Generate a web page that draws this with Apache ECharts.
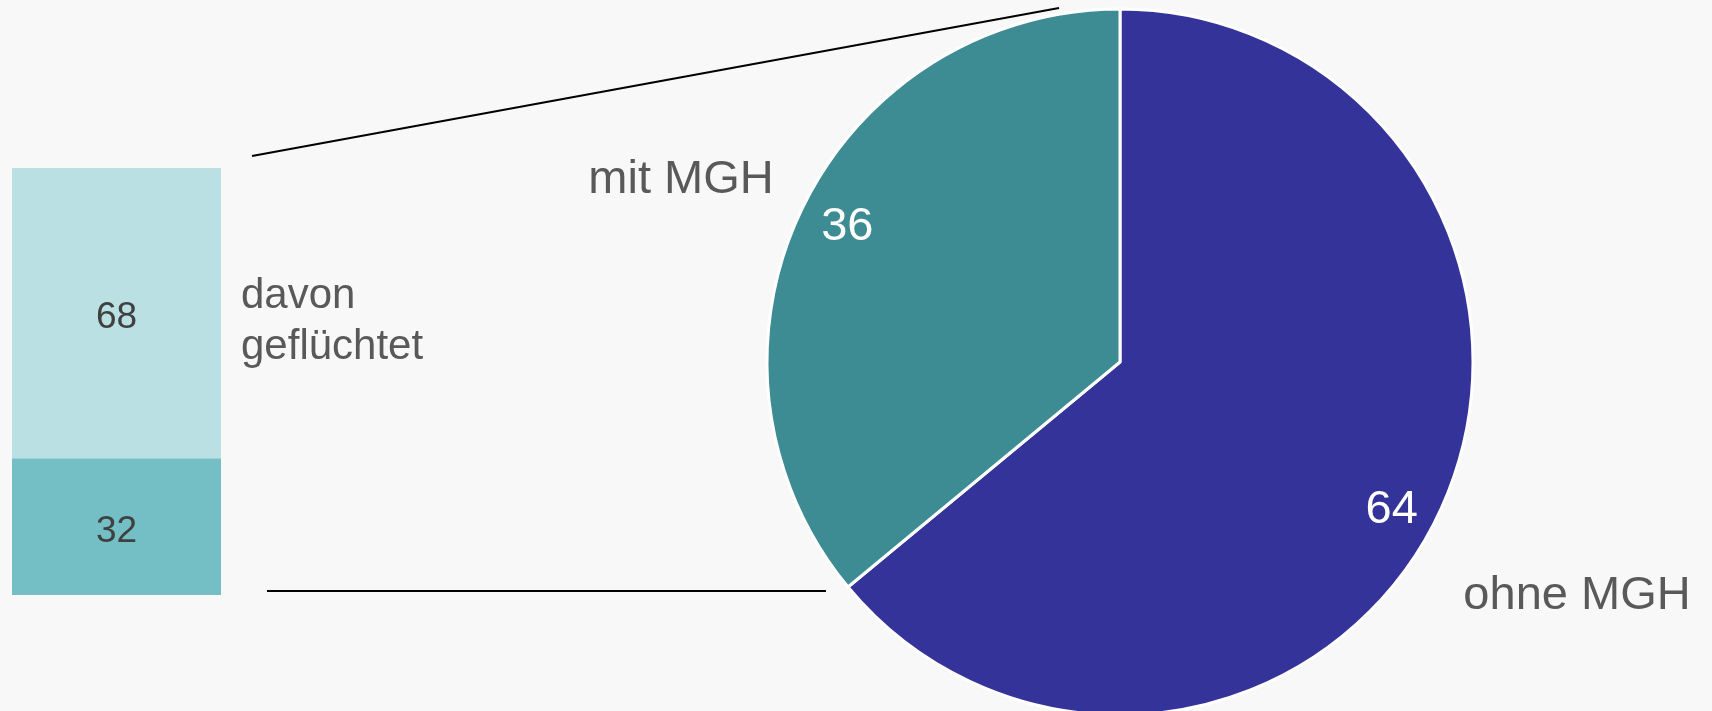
<!DOCTYPE html>
<html>
<head>
<meta charset="utf-8">
<script src="https://cdn.jsdelivr.net/npm/echarts@6/dist/echarts.min.js"></script>
<style>
  html, body { margin: 0; padding: 0; background: #f8f8f8; }
  #chart { width: 1712px; height: 711px; }
</style>
</head>
<body>
<div id="chart"></div>
<script>
  // Anteil mit / ohne Migrationshintergrund
  var pieNames = ['ohne MGH', 'mit MGH']
  var pieValues = [64, 36]
  var pieColors = ['#343399', '#3e8c93']

  // davon geflüchtet (gestapelte Säule links)
  var barCategories = ['mit MGH']
  var barNames = ['nicht geflüchtet', 'davon geflüchtet']
  var barValues = [[32], [68]]
  var barColors = ['#73bfc5', '#bbe0e3']

  var font = '"Liberation Sans", Arial, sans-serif'

  var chart = echarts.init(document.getElementById('chart'))

  var pieData = []
  var ringData = []
  for (var i = 0; i < pieValues.length; i++) {
    pieData.push({ name: pieNames[i], value: pieValues[i], itemStyle: { color: pieColors[i] } })
    ringData.push({ name: pieNames[i], value: pieValues[i] })
  }

  var barSeries = []
  for (i = 0; i < barValues.length; i++) {
    barSeries.push({
      name: barNames[i],
      type: 'bar',
      stack: 'mgh',
      barWidth: '100%',
      silent: true,
      itemStyle: { color: barColors[i] },
      label: {
        show: true,
        position: 'inside',
        offset: [0, 5],
        color: '#404040',
        fontSize: 37,
        fontFamily: font
      },
      data: barValues[i]
    })
  }

  // position of the name labels next to the pie
  var nameSpots = [
    { x: 1577, y: 596 },
    { x: 681, y: 180 }
  ]
  var valueNudge = [
    { dx: -7, dy: 17 },
    { dx: 6, dy: -4 }
  ]

  var option = {
    backgroundColor: '#f8f8f8',
    animation: false,
    grid: {
      left: 12,
      top: 168,
      width: 209,
      height: 427
    },
    xAxis: {
      type: 'category',
      show: false,
      data: barCategories
    },
    yAxis: {
      type: 'value',
      show: false,
      min: 0,
      max: 100
    },
    series: barSeries.concat([
      {
        name: 'MGH',
        type: 'pie',
        center: [1120, 362],
        radius: 353,
        startAngle: 90,
        clockwise: true,
        silent: true,
        avoidLabelOverlap: false,
        itemStyle: { borderColor: '#ffffff', borderWidth: 3 },
        label: {
          show: true,
          position: 'outside',
          formatter: '{b}',
          color: '#595959',
          fontSize: 47,
          fontFamily: font
        },
        labelLine: { show: false },
        labelLayout: function (params) {
          var s = nameSpots[params.dataIndex]
          return { x: s.x, y: s.y, align: 'center', verticalAlign: 'middle' }
        },
        data: pieData
      },
      {
        // transparent ring, only carries the value labels
        name: 'Werte',
        type: 'pie',
        center: [1120, 362],
        radius: [257, 353],
        startAngle: 90,
        clockwise: true,
        silent: true,
        avoidLabelOverlap: false,
        itemStyle: { color: 'rgba(0,0,0,0)', borderWidth: 0 },
        label: {
          show: true,
          position: 'inside',
          formatter: '{c}',
          color: '#ffffff',
          fontSize: 47,
          fontFamily: font
        },
        labelLine: { show: false },
        labelLayout: function (params) {
          return valueNudge[params.dataIndex]
        },
        data: ringData
      }
    ]),
    graphic: [
      {
        type: 'text',
        x: 241,
        y: 322,
        silent: true,
        style: {
          text: 'davon\ngeflüchtet',
          font: '42px ' + font,
          lineHeight: 51,
          fill: '#595959',
          verticalAlign: 'middle'
        }
      },
      {
        type: 'line',
        silent: true,
        shape: { x1: 252, y1: 156, x2: 1059, y2: 8 },
        style: { stroke: '#000000', lineWidth: 2 }
      },
      {
        type: 'line',
        silent: true,
        shape: { x1: 267, y1: 591, x2: 826, y2: 591 },
        style: { stroke: '#000000', lineWidth: 2 }
      }
    ]
  }

  chart.setOption(option)
</script>
</body>
</html>
